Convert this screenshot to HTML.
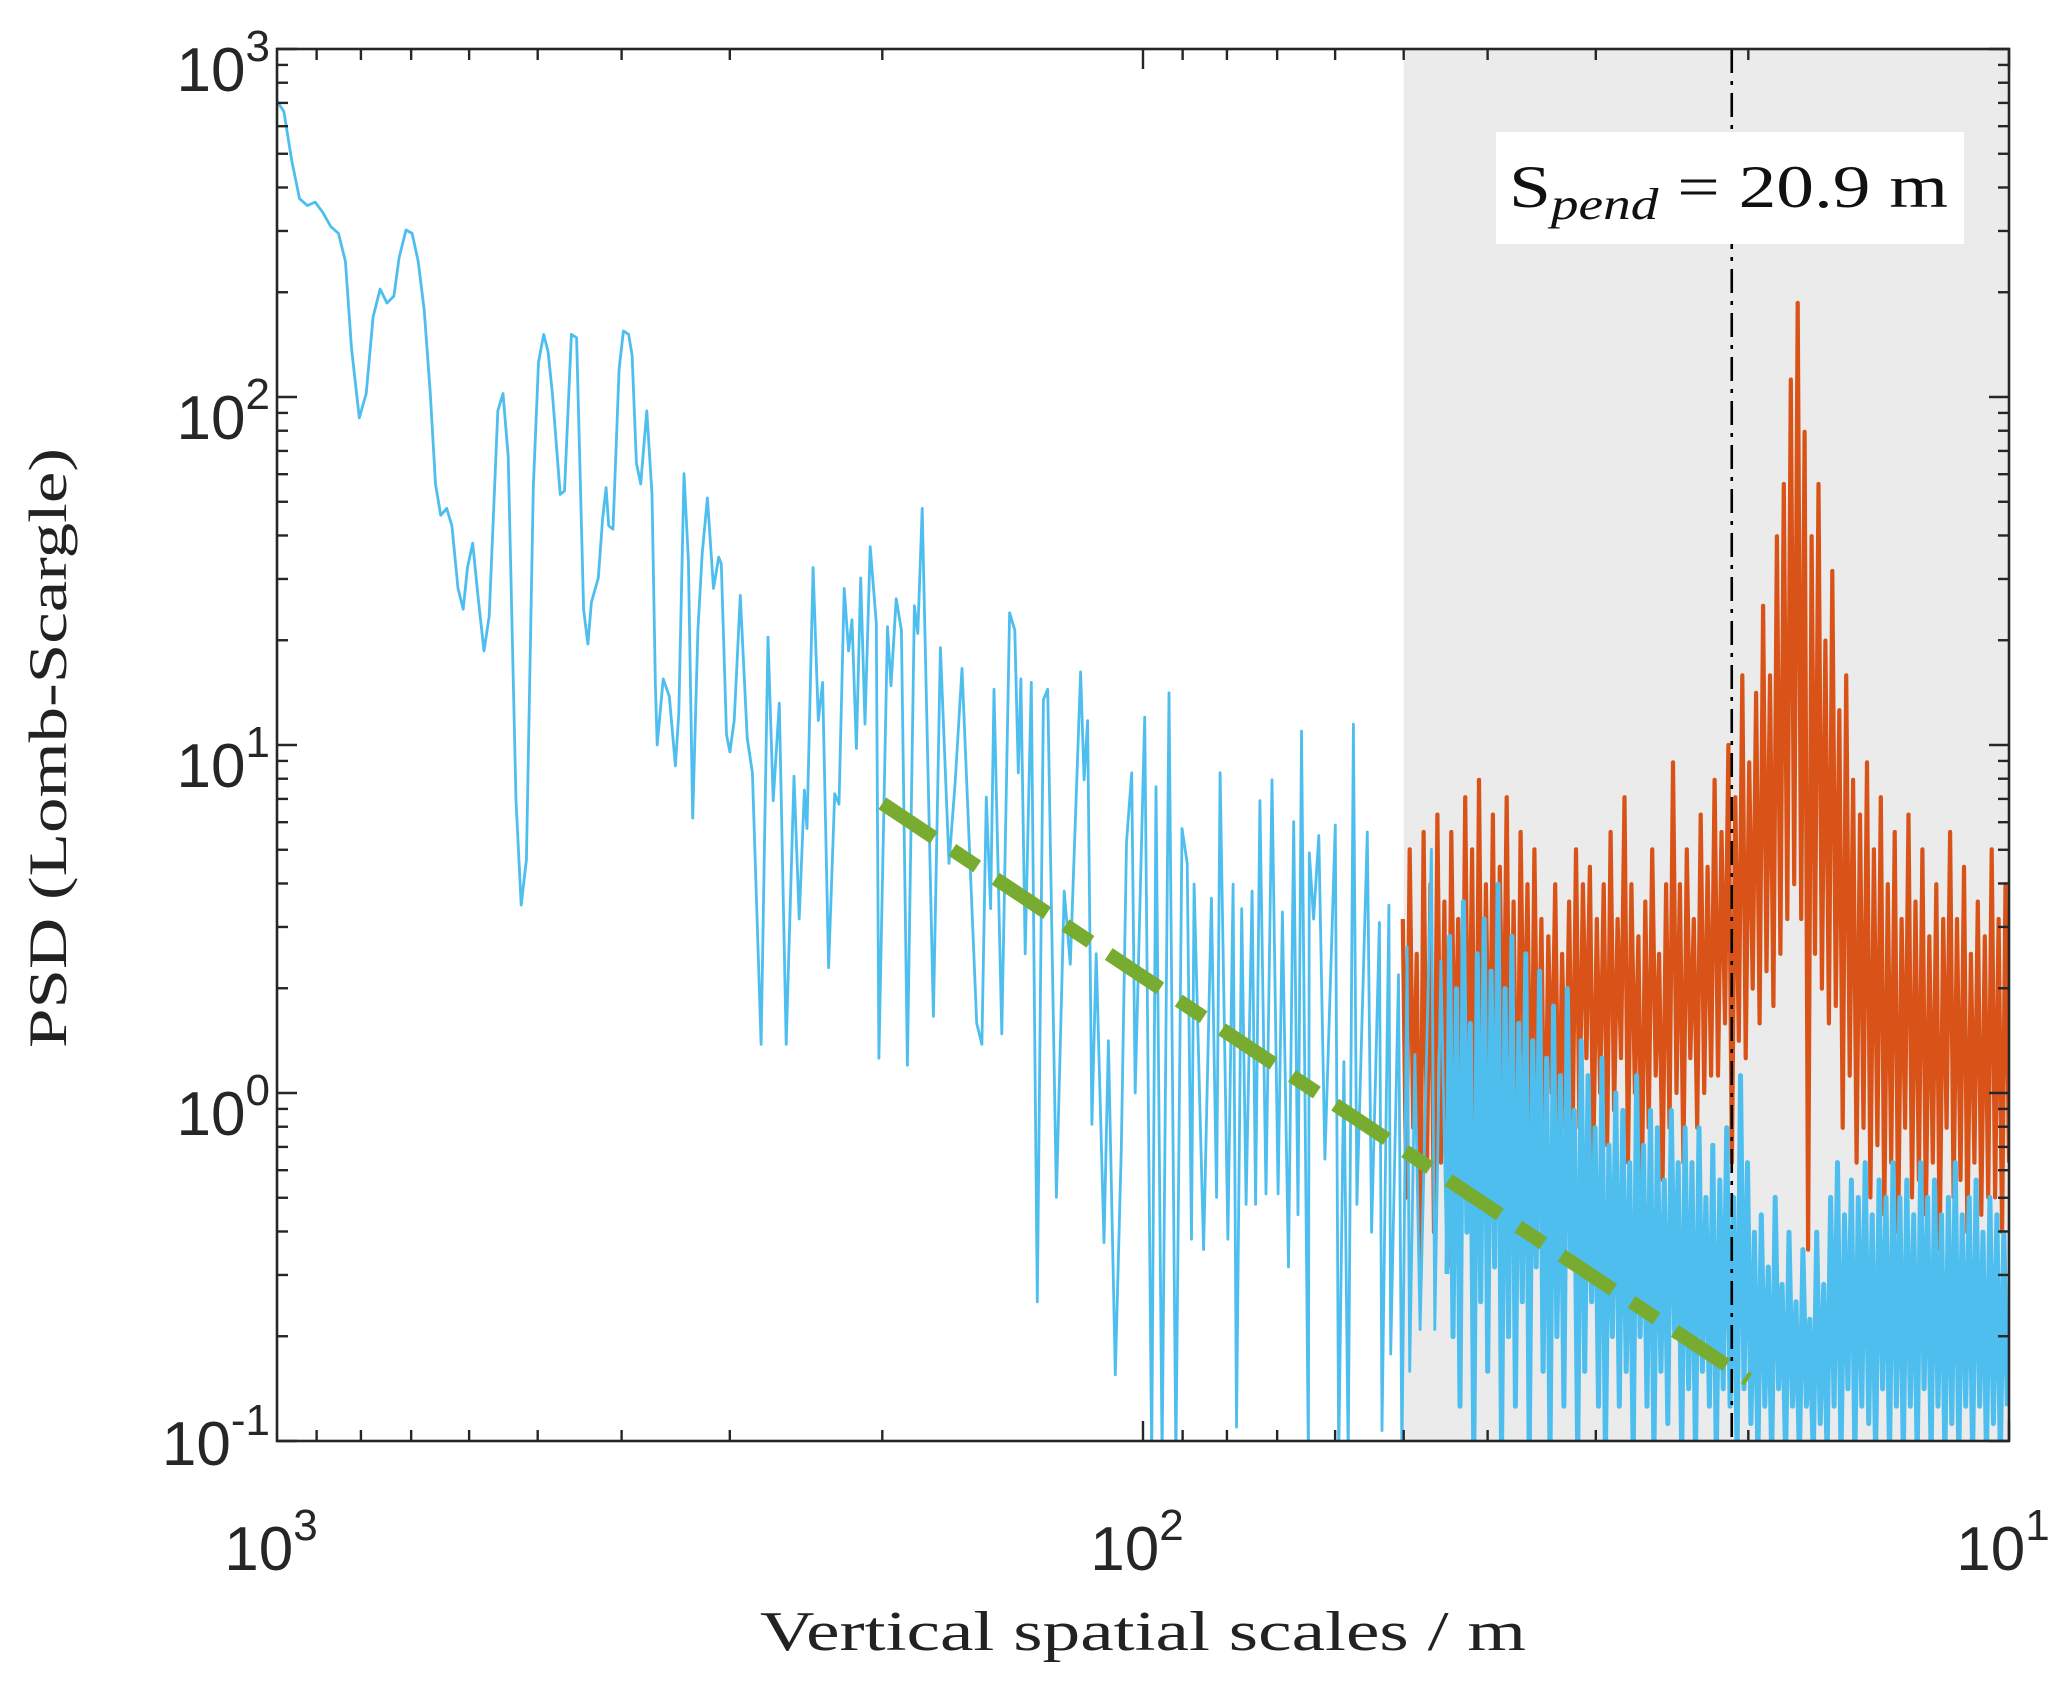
<!DOCTYPE html>
<html><head><meta charset="utf-8"><style>
html,body{margin:0;padding:0;background:#fff;}
svg{display:block;}
</style></head><body>
<svg id="chart" width="2067" height="1686" viewBox="0 0 2067 1686" xmlns="http://www.w3.org/2000/svg">
<rect x="0" y="0" width="2067" height="1686" fill="#fff"/>
<g id="plot"></g>
<g id="axes"></g>
<text transform="translate(66,748) rotate(-90)" text-anchor="middle" font-family="Liberation Serif, serif" font-size="54" fill="#222" textLength="600" lengthAdjust="spacingAndGlyphs">PSD (Lomb-Scargle)</text>
<text x="1143" y="1650" text-anchor="middle" font-family="Liberation Serif, serif" font-size="56" fill="#222" textLength="766" lengthAdjust="spacingAndGlyphs">Vertical spatial scales / m</text>
</svg>
<script>
// ---- data ----
const xTickValues = [1000, 100, 10];
const xTickExponents = ["3", "2", "1"];
const yTickExponents = [3, 2, 1, 0, -1];
const shadeStartScale = 50;
const spendScale = 20.9;
const spendLabel = "20.9 m";
const fitScale = [200, 20];
const fitPSD = [6.8, 0.15];
// blue series (low range): log10 wavenumber (cycles/km) and log10 PSD
const blueLogK = [0,.008,.017,.026,.035,.044,.053,.062,.071,.079,.086,.095,.103,.111,.119,.127,.135,.141,.149,.156,.163,.170,.177,.183,.189,.196,.202,.209,.215,.220,.226,.232,.239,.245,.255,.261,.267,.276,.282,.288,.296,.302,.308,.313,.318,.327,.332,.340,.346,.354,.359,.363,.371,.376,.380,.383,.388,.395,.400,.406,.410,.415,.420,.427,.433,.437,.439,.446,.453,.460,.464,.470,.475,.480,.486,.491,.497,.504,.510,.513,.519,.523,.528,.535,.543,.549,.559,.567,.573,.580,.588,.597,.603,.609,.612,.619,.625,.630,.637,.644,.649,.655,.660,.664,.669,.674,.679,.685,.692,
.695,.705,.709,.715,.721,.728,.736,.740,.745,.758,.766,.776,.783,.791,.808,.814,.819,.824,.828,.837,.846,.852,.856,.859,.864,.871,.878,.885,.890,.900,.909,.916,.928,.932,.936,.941,.946,.955,.960,.968,.975,.981,.987,.991,1.002,1.010,1.015,1.022,1.030,1.038,1.045,1.051,1.056,1.059,1.070,1.079,1.085,1.089,1.098,1.104,1.108,1.114,1.119,1.126,1.130,1.135,1.142,1.149,1.156,1.161,1.168,1.174,1.179,1.183,1.191,1.192,1.197,1.203,1.210,1.222,1.226,1.232,1.237,1.243,1.247,1.259,1.264,1.273,1.276,1.284,1.286,1.295,1.299,1.305,1.308,1.314,1.320,1.333,1.337,1.344,1.351];
const blueLogPSD = [2.85,2.82,2.68,2.57,2.55,2.56,2.53,2.49,2.47,2.39,2.14,1.94,2.01,2.23,2.31,2.27,2.29,2.40,2.48,2.47,2.39,2.25,2.01,1.75,1.66,1.68,1.63,1.45,1.39,1.51,1.58,1.43,1.27,1.37,1.96,2.01,1.83,.84,.54,.67,1.74,2.10,2.18,2.13,2.01,1.72,1.73,2.18,2.17,1.39,1.29,1.41,1.48,1.65,1.74,1.63,1.62,2.08,2.19,2.18,2.12,1.81,1.75,1.96,1.72,1.17,1.00,1.19,1.14,.94,1.09,1.78,1.53,.79,1.33,1.55,1.71,1.45,1.54,1.52,1.03,.98,1.07,1.43,1.02,.92,.14,1.31,.84,1.12,.14,.91,.50,.87,.76,1.51,1.07,1.18,.36,.86,.83,1.45,1.27,1.36,.99,1.48,1.06,1.57,1.35,
.10,1.34,1.17,1.42,1.33,.08,1.40,1.32,1.68,.22,1.28,.66,.89,1.22,.20,.14,.85,.53,1.16,.17,1.38,1.33,.92,1.19,.40,1.18,-.6,1.13,1.16,-.3,.58,.37,1.21,.90,1.07,-.09,.40,-.43,.15,-.81,-.16,.72,.92,0,1.08,-1.1,.88,-1.1,1.15,-1.1,.76,.66,-.42,.60,-.45,.56,-.30,.92,-.42,.60,-.96,.53,-.32,.58,-.32,.84,-.29,.90,-.29,.52,-.5,.78,-.35,1.04,-1.1,.69,.50,.74,-.19,.77,-1.1,.09,-1.1,1.06,-.32,.75,-.40,.49,-.97,.54,-.75,.34,-1.1,.42,-.8,.11,-.68,.70,-.68,.38,-.52];
// blue series (dense range) on uniform log grid
const blueDenseStartLogK = 1.354;
const blueDenseStepLogK = 0.004;
const blueDenseLogPSD = [0.45,-0.7,0.3,-0.9,0.55,-0.4,0.2,-1.1,0.4,-0.6,
0.5,-0.8,0.35,-0.5,0.6,-1.1,0.3,-0.7,0.45,-0.9,
0.2,-0.6,0.4,-1.1,0.15,-0.5,0.35,-0.8,0.1,-1.1,
0.25,-0.7,0.05,-0.9,0.3,-0.5,-0.05,-1.1,0.15,-0.8,
0.05,-0.6,-0.1,-0.9,0.1,-1.1,-0.15,-0.7,0.0,-0.9,
-0.05,-0.8,-0.2,-1.1,0.05,-0.7,-0.15,-0.9,-0.05,-1.1,
-0.1,-0.8,-0.25,-0.95,-0.05,-0.7,-0.2,-1.1,-0.1,-0.85,
-0.2,-1.1,-0.1,-0.8,-0.3,-0.9,-0.15,-1.1,-0.25,-0.85,
-0.1,-0.9,-0.3,-1.1,0.05,-0.85,-0.2,-0.95,-0.4,-1.1,
-0.35,-0.9,-0.5,-1.1,-0.3,-0.85,-0.55,-1.1,-0.4,-0.9,
-0.6,-1.1,-0.45,-0.9,-0.65,-1.1,-0.4,-0.95,-0.55,-1.1,
-0.3,-0.9,-0.2,-1.1,-0.35,-0.85,-0.25,-1.1,-0.3,-0.9,
-0.2,-0.95,-0.35,-1.1,-0.25,-0.85,-0.3,-1.1,-0.2,-0.9,
-0.3,-1.1,-0.25,-0.9,-0.35,-1.1,-0.2,-0.85,-0.3,-1.1,
-0.25,-0.9,-0.35,-1.1,-0.3,-0.95,-0.2,-1.1,-0.35,-0.9,
-0.3,-1.1,-0.25,-0.9,-0.4,-1.1,-0.3,-0.95,-0.35,-1.1,-0.4,-0.9];
// orange series on uniform log grid
const orangeStartLogK = 1.300;
const orangeStepLogK = 0.004;
const orangeLogPSD = [0.5,-0.3,0.7,-0.1,0.4,-0.5,0.75,-0.2,0.6,-0.4,
0.8,-0.2,0.55,-0.5,0.75,0.0,0.5,-0.3,0.85,-0.1,
0.7,-0.4,0.9,-0.2,0.6,-0.1,0.8,-0.35,0.65,0.0,
0.85,-0.2,0.55,-0.3,0.75,0.05,0.6,-0.25,0.7,-0.1,
0.5,-0.3,0.45,0.0,0.6,-0.2,0.4,-0.1,0.55,-0.15,
0.7,-0.1,0.6,0.1,0.65,-0.2,0.5,0.0,0.6,-0.15,
0.75,-0.05,0.5,0.1,0.85,-0.2,0.6,0.0,0.45,-0.3,
0.55,-0.1,0.7,0.05,0.4,-0.25,0.6,-0.1,0.95,0.0,
0.6,-0.2,0.7,0.1,0.5,-0.1,0.8,0.0,0.65,0.05,
0.9,0.05,0.75,0.2,1.0,-0.2,0.85,0.15,1.2,0.1,
0.95,0.3,1.15,0.2,1.4,0.35,1.2,0.25,1.6,0.4,
1.75,0.5,2.05,0.6,2.27,0.5,1.9,-0.45,1.6,0.4,
1.75,0.3,1.3,0.2,1.5,0.25,1.1,-0.1,1.2,0.05,
0.9,-0.2,0.8,-0.1,0.95,-0.3,0.7,-0.15,0.85,-0.35,
0.6,-0.2,0.75,-0.4,0.5,-0.1,0.8,-0.3,0.55,-0.25,
0.7,-0.35,0.45,-0.2,0.6,-0.45,0.5,-0.1,0.75,-0.3,
0.5,-0.25,0.65,-0.4,0.4,-0.2,0.55,-0.35,0.45,-0.3,
0.7,-0.3,0.5,-0.4,0.6,-0.2];

// ---- layout ----
const L = 277, R = 2009, T = 49, B = 1441;
const NS = "http://www.w3.org/2000/svg";
const xMaxScale = 1000, xMinScale = 10, yMinE = -1, yMaxE = 3;
function xOfScale(s){ return L + (Math.log10(xMaxScale) - Math.log10(s)) / (Math.log10(xMaxScale) - Math.log10(xMinScale)) * (R - L); }
function xOfLogK(k){ return xOfScale(1000 / Math.pow(10, k)); }
function yOfLog(v){ const c = Math.max(yMinE - 0.05, Math.min(yMaxE, v)); return B - (c - yMinE) / (yMaxE - yMinE) * (B - T); }
function yOfVal(v){ return yOfLog(Math.log10(v)); }
function mk(tag, attrs, parent){ const e = document.createElementNS(NS, tag); for (const k in attrs) e.setAttribute(k, attrs[k]); parent.appendChild(e); return e; }
const plot = document.getElementById('plot');
const axes = document.getElementById('axes');

const defs = mk('defs', {}, plot);
const cp = mk('clipPath', {id:'clipPlot'}, defs);
mk('rect', {x:L, y:T, width:R-L, height:B-T}, cp);
const inner = mk('g', {'clip-path':'url(#clipPlot)'}, plot);

const shade = mk('rect', {x:xOfScale(shadeStartScale), y:T, width:R - xOfScale(shadeStartScale), height:B-T, fill:'#ebebeb'}, inner);



// orange series
let d = '';
orangeLogPSD.forEach((v, i) => { const x = xOfLogK(orangeStartLogK + i * orangeStepLogK); d += (i ? 'L' : 'M') + x.toFixed(1) + ' ' + yOfLog(v).toFixed(1); });
const orange = mk('path', {d:d, fill:'none', stroke:'#d95319', 'stroke-width':4.2, 'stroke-linejoin':'round'}, inner);



// blue series (low range)
d = '';
blueLogK.forEach((k, i) => { d += (i ? 'L' : 'M') + xOfLogK(k).toFixed(1) + ' ' + yOfLog(blueLogPSD[i]).toFixed(1); });
const blue = mk('path', {d:d, fill:'none', stroke:'#4dbeee', 'stroke-width':2.8, 'stroke-linejoin':'round'}, inner);



// blue series (dense range)
const lastK = blueLogK[blueLogK.length - 1];
d = 'M' + xOfLogK(lastK).toFixed(1) + ' ' + yOfLog(blueLogPSD[blueLogPSD.length - 1]).toFixed(1);
blueDenseLogPSD.forEach((v, i) => { d += 'L' + xOfLogK(blueDenseStartLogK + i * blueDenseStepLogK).toFixed(1) + ' ' + yOfLog(v).toFixed(1); });
const blueDense = mk('path', {d:d, fill:'none', stroke:'#4dbeee', 'stroke-width':5, 'stroke-linejoin':'round'}, inner);



// fit line
const fit = mk('line', {x1:xOfScale(fitScale[0]), y1:yOfVal(fitPSD[0]), x2:xOfScale(fitScale[1]), y2:yOfVal(fitPSD[1]), stroke:'#77ac30', 'stroke-width':14, 'stroke-dasharray':'62 22 30 22'}, inner);



// spend line
const sx = xOfScale(spendScale);
const sl = mk('line', {x1:sx, y1:T, x2:sx, y2:B, stroke:'#000', 'stroke-width':2.6, 'stroke-dasharray':'24 8 4 8'}, inner);



// annotation box
const ab = mk('rect', {x:1496, y:132, width:468, height:112, fill:'#fff'}, plot);


const at = mk('text', {x:1509, y:207, 'font-family':'Liberation Serif, serif', 'font-size':60, fill:'#111', textLength:439, lengthAdjust:'spacingAndGlyphs'}, plot);


at.innerHTML = 'S<tspan font-style="italic" font-size="44" dy="12">pend</tspan><tspan dy="-12"> = ' + spendLabel + '</tspan>';

// axes box
const box = mk('rect', {x:L, y:T, width:R-L, height:B-T, fill:'none', stroke:'#262626', 'stroke-width':2.6}, axes);



// y ticks
for (let e = yMinE; e <= yMaxE; e++) {
  for (let m = 1; m <= 9; m++) {
    if (e === yMaxE && m > 1) break;
    const y = yOfVal(m * Math.pow(10, e));
    const len = m === 1 ? 20 : 11;
    mk('line', {x1:L, y1:y, x2:L+len, y2:y, stroke:'#262626', 'stroke-width':2.4}, axes);
    mk('line', {x1:R, y1:y, x2:R-len, y2:y, stroke:'#262626', 'stroke-width':2.4}, axes);
  }
}
yTickExponents.forEach(e => {
  const y = yOfVal(Math.pow(10, e)) + (e === yMinE ? 24 : 42);
  const t = mk('text', {x:270, y:y, 'text-anchor':'end', 'font-family':'Liberation Sans, sans-serif', 'font-size':62, fill:'#262626'}, axes);
  
  
  t.innerHTML = '10<tspan font-size="44" dy="-30">' + String(e) + '</tspan>';
});

// x ticks
for (let e = 2; e >= 1; e--) {
  for (let m = 1; m <= 9; m++) {
    const x = xOfScale(m * Math.pow(10, e));
    const len = m === 1 ? 20 : 11;
    mk('line', {x1:x, y1:B, x2:x, y2:B-len, stroke:'#262626', 'stroke-width':2.4}, axes);
    mk('line', {x1:x, y1:T, x2:x, y2:T+len, stroke:'#262626', 'stroke-width':2.4}, axes);
  }
}
xTickValues.forEach((v, i) => {
  const x = xOfScale(v);
  const t = mk('text', {x:x - 6, y:1570, 'text-anchor':'middle', 'font-family':'Liberation Sans, sans-serif', 'font-size':62, fill:'#262626'}, axes);
  
  
  t.innerHTML = '10<tspan font-size="44" dy="-30">' + xTickExponents[i] + '</tspan>';
});
</script>
</body></html>
